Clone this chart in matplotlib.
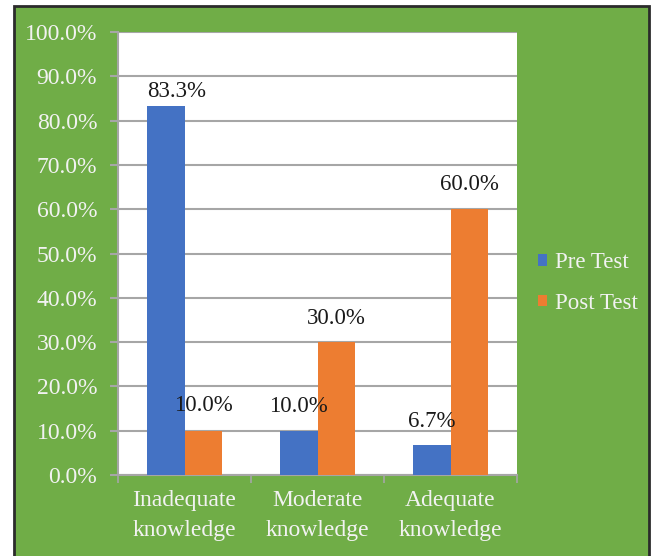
import matplotlib
matplotlib.use("Agg")
import matplotlib.pyplot as plt
from matplotlib.patches import Rectangle, Patch
import numpy as np

categories = ["Inadequate\nknowledge", "Moderate\nknowledge", "Adequate\nknowledge"]
pre_test = [83.3, 10.0, 6.7]
post_test = [10.0, 30.0, 60.0]
series_names = ["Pre Test", "Post Test"]
y_ticks = [0, 10, 20, 30, 40, 50, 60, 70, 80, 90, 100]

W, H = 656, 556
fig = plt.figure(figsize=(W / 100, H / 100), dpi=100)
fig.patch.set_facecolor("white")

GREEN = "#70AD47"
BLUE = "#4472C4"
ORANGE = "#ED7D31"
GRID = "#A6A6A6"
TXT = "#F2F2F2"
FONT = "Liberation Serif"

# green frame
fig.patches.append(Rectangle((13.5 / W, -0.02), (649 - 13.5) / W, (556 - 5.5) / H + 0.02,
                             transform=fig.transFigure, facecolor=GREEN,
                             edgecolor="#2b2b2b", linewidth=2, zorder=0))

ax = fig.add_axes([118 / W, 1 - 475 / H, 399 / W, 443 / H])
ax.set_facecolor("white")
ax.set_zorder(1)

x = np.arange(len(categories))
bw = 0.282
b1 = ax.bar(x - bw / 2, pre_test, bw, color=BLUE, label=series_names[0], zorder=3)
b2 = ax.bar(x + bw / 2, post_test, bw, color=ORANGE, label=series_names[1], zorder=3)

ax.set_xlim(-0.5, 2.5)
ax.set_ylim(0, 100)
ax.set_yticks(y_ticks)
ax.set_yticklabels([f"{v:.1f}%" for v in y_ticks], fontsize=17, color=TXT, family=FONT)
ax.yaxis.grid(True, color=GRID, linewidth=1.5, zorder=0)
ax.set_axisbelow(True)

ax.set_xticks(x)
ax.set_xticklabels(categories, fontsize=17, color=TXT, family=FONT, linespacing=1.55)
ax.tick_params(axis="x", length=0, pad=11)
ax.set_xticks([0.5, 1.5, 2.5, -0.5], minor=True)
ax.tick_params(axis="x", which="minor", length=6, color=GRID, width=1.2)
ax.tick_params(axis="y", length=6, color=GRID, width=1.5, pad=9)

for s in ["top", "right"]:
    ax.spines[s].set_visible(False)
for s in ["left", "bottom"]:
    ax.spines[s].set_color(GRID)
    ax.spines[s].set_linewidth(1.5)

# data labels
def lab(bars, vals, offsets):
    for b, v, (dx, dy) in zip(bars, vals, offsets):
        ax.annotate(f"{v:.1f}%", (b.get_x() + b.get_width() / 2, b.get_height()),
                    xytext=(dx, dy), textcoords="offset points", ha="center", va="center",
                    fontsize=16.5, color="#1a1a1a", family=FONT, zorder=5)

lab(b1, pre_test, [(8, 10.5), (0, 17.5), (0, 17.5)])
lab(b2, post_test, [(0, 18.0), (0, 17.0), (0, 17.5)])

handles = [Patch(facecolor=BLUE), Patch(facecolor=ORANGE)]
leg = fig.legend(handles, series_names, loc="center left",
                 bbox_to_anchor=(517 / W, 1 - 283 / H), frameon=False,
                 handlelength=0.4, handleheight=0.4, handletextpad=0.35,
                 labelspacing=0.85, prop={"family": FONT, "size": 16.5})
for t in leg.get_texts():
    t.set_color(TXT)

fig.savefig("out.png", dpi=100, facecolor=fig.get_facecolor())
